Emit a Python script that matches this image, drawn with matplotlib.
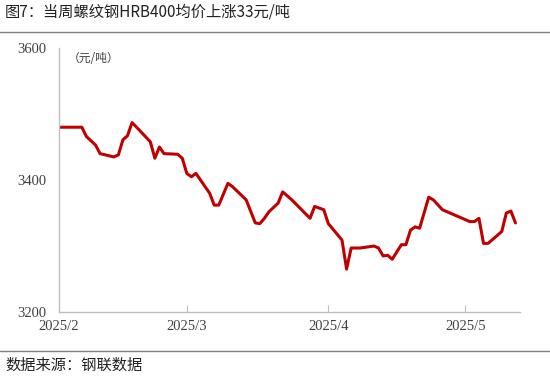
import matplotlib
matplotlib.use("Agg")
import matplotlib.pyplot as plt
from matplotlib.lines import Line2D
import pandas as pd

# 螺纹钢HRB400均价（元/吨），读图估计
dates = ["2025-02-01", "2025-02-06", "2025-02-07", "2025-02-09", "2025-02-10",
         "2025-02-13", "2025-02-14", "2025-02-15", "2025-02-16", "2025-02-17",
         "2025-02-18", "2025-02-21", "2025-02-22", "2025-02-23", "2025-02-24",
         "2025-02-27", "2025-02-28", "2025-03-01", "2025-03-02", "2025-03-03",
         "2025-03-04", "2025-03-06", "2025-03-07", "2025-03-08", "2025-03-10",
         "2025-03-11", "2025-03-14", "2025-03-16", "2025-03-17", "2025-03-18",
         "2025-03-19", "2025-03-21", "2025-03-22", "2025-03-24", "2025-03-28",
         "2025-03-29", "2025-03-31", "2025-04-01", "2025-04-04", "2025-04-05",
         "2025-04-06", "2025-04-08", "2025-04-11", "2025-04-12", "2025-04-13",
         "2025-04-14", "2025-04-15", "2025-04-17", "2025-04-18", "2025-04-19",
         "2025-04-20", "2025-04-21", "2025-04-23", "2025-04-24", "2025-04-26",
         "2025-05-02", "2025-05-03", "2025-05-04", "2025-05-05", "2025-05-06",
         "2025-05-09", "2025-05-10", "2025-05-11", "2025-05-12"]
prices = [3480, 3480, 3466, 3453, 3440,
          3435, 3438, 3461, 3467, 3487,
          3480, 3458, 3433, 3450, 3440,
          3439, 3433, 3410, 3405, 3410,
          3400, 3380, 3362, 3362, 3395,
          3390, 3370, 3335, 3334, 3342,
          3352, 3365, 3382, 3370, 3342,
          3360, 3355, 3334, 3309, 3265,
          3297, 3297, 3300, 3297, 3285,
          3286, 3280, 3302, 3302, 3324,
          3329, 3327, 3374, 3370, 3355,
          3337, 3337, 3342, 3304, 3304,
          3322, 3350, 3353, 3335]

month_ticks = ["2025-02-01", "2025-03-01", "2025-04-01", "2025-05-01"]
month_labels = ["2025/2", "2025/3", "2025/4", "2025/5"]
y_ticks = [3200, 3400, 3600]

title = "图7：当周螺纹钢HRB400均价上涨33元/吨"
source = "数据来源：钢联数据"
unit = "（元/吨）"

plt.rcParams['font.family'] = ['Noto Sans CJK SC', 'DejaVu Sans']

fig = plt.figure(figsize=(5.5, 3.81), dpi=100)
ax = fig.add_axes([0.1073, 0.181, 0.8382, 0.693])

x = pd.to_datetime(dates)
ax.plot(x, prices, color="#C00000", lw=2.2, solid_joinstyle="round",
        solid_capstyle="round")

ax.set_ylim(3200, 3600)
ax.set_yticks(y_ticks)
ax.set_xlim(pd.Timestamp("2025-02-01"), pd.Timestamp("2025-05-13"))
ax.set_xticks(pd.to_datetime(month_ticks))
ax.set_xticklabels(month_labels)

for s in ["top", "right"]:
    ax.spines[s].set_visible(False)
for s in ["left", "bottom"]:
    ax.spines[s].set_color("#BFBFBF")
    ax.spines[s].set_linewidth(1.0)

ax.tick_params(axis="x", direction="in", length=5, color="#BFBFBF",
               labelcolor="#404040", pad=6)
ax.tick_params(axis="y", length=0, labelcolor="#404040", pad=9)
for lab in ax.get_xticklabels() + ax.get_yticklabels():
    lab.set_fontfamily("Liberation Serif")
    lab.set_fontsize(10.5)

ax.text(0.018, 0.985, unit, transform=ax.transAxes, fontsize=8.5,
        color="#404040", va="top", ha="left")

fig.text(0.009, 0.968, title, fontsize=11, color="#222222",
         va="center", ha="left")
fig.text(0.009, 0.042, source, fontsize=11, color="#222222",
         va="center", ha="left")

fig.add_artist(Line2D([0, 1], [1 - 32 / 381, 1 - 32 / 381],
                      transform=fig.transFigure, color="#808080", lw=1.0))
fig.add_artist(Line2D([0, 1], [1 - 351 / 381, 1 - 351 / 381],
                      transform=fig.transFigure, color="#808080", lw=1.0))

fig.savefig("out.png", dpi=100)
